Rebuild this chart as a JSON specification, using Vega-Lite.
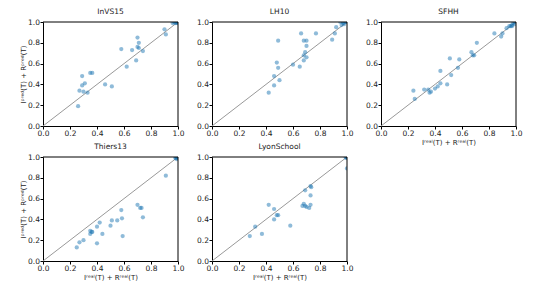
{
  "$schema": "https://vega.github.io/schema/vega-lite/v6.json",
  "padding": {"left": 19, "top": 7, "right": 4, "bottom": 2},
  "background": "white",
  "config": {
    "font": "DejaVu Sans",
    "view": {"stroke": null},
    "axis": {"domainColor": "#000", "tickColor": "#000", "tickSize": 3, "labelFontSize": 7.5, "labelColor": "#222", "labelFont": "DejaVu Sans", "labelPadding": 0.5, "labelFlush": false, "titleFont": "DejaVu Sans", "titleFontSize": 7, "titleFontWeight": "normal", "titleColor": "#222", "titlePadding": 1.5, "grid": false, "format": ".1f"},
    "title": {"fontSize": 7.5, "fontWeight": "normal", "font": "DejaVu Sans", "color": "#222", "offset": 3}
  },
  "datasets": {
    "diag": [{"x": 0, "y": 0, "x2": 1, "y2": 1}],
    "frame": [{"x": 0, "y": 1, "x2": 1, "y2": 1}, {"x": 1, "y": 0, "x2": 1, "y2": 1}],
    "pts": [
      {"d": "InVS15", "x": 0.26, "y": 0.19}, {"d": "InVS15", "x": 0.27, "y": 0.34}, {"d": "InVS15", "x": 0.29, "y": 0.39}, {"d": "InVS15", "x": 0.29, "y": 0.48}, {"d": "InVS15", "x": 0.31, "y": 0.41}, {"d": "InVS15", "x": 0.3, "y": 0.33}, {"d": "InVS15", "x": 0.33, "y": 0.32}, {"d": "InVS15", "x": 0.35, "y": 0.51}, {"d": "InVS15", "x": 0.365, "y": 0.51}, {"d": "InVS15", "x": 0.46, "y": 0.4}, {"d": "InVS15", "x": 0.51, "y": 0.38}, {"d": "InVS15", "x": 0.58, "y": 0.74}, {"d": "InVS15", "x": 0.62, "y": 0.57}, {"d": "InVS15", "x": 0.66, "y": 0.73}, {"d": "InVS15", "x": 0.69, "y": 0.63}, {"d": "InVS15", "x": 0.7, "y": 0.85}, {"d": "InVS15", "x": 0.71, "y": 0.8}, {"d": "InVS15", "x": 0.7, "y": 0.76}, {"d": "InVS15", "x": 0.71, "y": 0.75}, {"d": "InVS15", "x": 0.74, "y": 0.72}, {"d": "InVS15", "x": 0.9, "y": 0.93}, {"d": "InVS15", "x": 0.91, "y": 0.88}, {"d": "InVS15", "x": 0.96, "y": 0.99}, {"d": "InVS15", "x": 0.97, "y": 1.0}, {"d": "InVS15", "x": 0.98, "y": 0.99}, {"d": "InVS15", "x": 0.99, "y": 1.0}, {"d": "InVS15", "x": 1.0, "y": 1.0}, {"d": "InVS15", "x": 0.985, "y": 0.995}, {"d": "InVS15", "x": 0.995, "y": 0.99}, {"d": "InVS15", "x": 1.0, "y": 0.995},
      {"d": "LH10", "x": 0.42, "y": 0.32}, {"d": "LH10", "x": 0.46, "y": 0.39}, {"d": "LH10", "x": 0.46, "y": 0.48}, {"d": "LH10", "x": 0.48, "y": 0.61}, {"d": "LH10", "x": 0.49, "y": 0.56}, {"d": "LH10", "x": 0.5, "y": 0.44}, {"d": "LH10", "x": 0.49, "y": 0.82}, {"d": "LH10", "x": 0.6, "y": 0.59}, {"d": "LH10", "x": 0.65, "y": 0.57}, {"d": "LH10", "x": 0.66, "y": 0.89}, {"d": "LH10", "x": 0.68, "y": 0.82}, {"d": "LH10", "x": 0.7, "y": 0.82}, {"d": "LH10", "x": 0.7, "y": 0.77}, {"d": "LH10", "x": 0.69, "y": 0.71}, {"d": "LH10", "x": 0.68, "y": 0.68}, {"d": "LH10", "x": 0.68, "y": 0.63}, {"d": "LH10", "x": 0.7, "y": 0.66}, {"d": "LH10", "x": 0.77, "y": 0.89}, {"d": "LH10", "x": 0.89, "y": 0.83}, {"d": "LH10", "x": 0.91, "y": 0.89}, {"d": "LH10", "x": 0.92, "y": 0.95}, {"d": "LH10", "x": 0.95, "y": 1.0}, {"d": "LH10", "x": 0.96, "y": 0.97}, {"d": "LH10", "x": 0.97, "y": 0.99}, {"d": "LH10", "x": 0.98, "y": 0.98}, {"d": "LH10", "x": 0.99, "y": 1.0}, {"d": "LH10", "x": 1.0, "y": 1.0}, {"d": "LH10", "x": 0.975, "y": 0.995},
      {"d": "SFHH", "x": 0.24, "y": 0.34}, {"d": "SFHH", "x": 0.25, "y": 0.26}, {"d": "SFHH", "x": 0.32, "y": 0.35}, {"d": "SFHH", "x": 0.35, "y": 0.35}, {"d": "SFHH", "x": 0.36, "y": 0.32}, {"d": "SFHH", "x": 0.37, "y": 0.33}, {"d": "SFHH", "x": 0.4, "y": 0.36}, {"d": "SFHH", "x": 0.42, "y": 0.38}, {"d": "SFHH", "x": 0.44, "y": 0.41}, {"d": "SFHH", "x": 0.44, "y": 0.53}, {"d": "SFHH", "x": 0.49, "y": 0.4}, {"d": "SFHH", "x": 0.51, "y": 0.65}, {"d": "SFHH", "x": 0.52, "y": 0.49}, {"d": "SFHH", "x": 0.57, "y": 0.56}, {"d": "SFHH", "x": 0.58, "y": 0.64}, {"d": "SFHH", "x": 0.67, "y": 0.71}, {"d": "SFHH", "x": 0.68, "y": 0.68}, {"d": "SFHH", "x": 0.69, "y": 0.68}, {"d": "SFHH", "x": 0.71, "y": 0.8}, {"d": "SFHH", "x": 0.84, "y": 0.89}, {"d": "SFHH", "x": 0.89, "y": 0.86}, {"d": "SFHH", "x": 0.9, "y": 0.89}, {"d": "SFHH", "x": 0.93, "y": 0.94}, {"d": "SFHH", "x": 0.95, "y": 0.96}, {"d": "SFHH", "x": 0.97, "y": 0.97}, {"d": "SFHH", "x": 0.97, "y": 0.96}, {"d": "SFHH", "x": 0.98, "y": 0.99}, {"d": "SFHH", "x": 0.99, "y": 1.0}, {"d": "SFHH", "x": 0.96, "y": 0.96}, {"d": "SFHH", "x": 0.99, "y": 0.98},
      {"d": "Thiers13", "x": 0.25, "y": 0.13}, {"d": "Thiers13", "x": 0.27, "y": 0.18}, {"d": "Thiers13", "x": 0.3, "y": 0.2}, {"d": "Thiers13", "x": 0.4, "y": 0.17}, {"d": "Thiers13", "x": 0.35, "y": 0.26}, {"d": "Thiers13", "x": 0.36, "y": 0.28}, {"d": "Thiers13", "x": 0.35, "y": 0.29}, {"d": "Thiers13", "x": 0.365, "y": 0.28}, {"d": "Thiers13", "x": 0.4, "y": 0.33}, {"d": "Thiers13", "x": 0.42, "y": 0.37}, {"d": "Thiers13", "x": 0.44, "y": 0.26}, {"d": "Thiers13", "x": 0.5, "y": 0.34}, {"d": "Thiers13", "x": 0.51, "y": 0.39}, {"d": "Thiers13", "x": 0.55, "y": 0.39}, {"d": "Thiers13", "x": 0.58, "y": 0.49}, {"d": "Thiers13", "x": 0.585, "y": 0.41}, {"d": "Thiers13", "x": 0.59, "y": 0.24}, {"d": "Thiers13", "x": 0.7, "y": 0.54}, {"d": "Thiers13", "x": 0.72, "y": 0.51}, {"d": "Thiers13", "x": 0.73, "y": 0.51}, {"d": "Thiers13", "x": 0.74, "y": 0.42}, {"d": "Thiers13", "x": 0.91, "y": 0.82}, {"d": "Thiers13", "x": 0.98, "y": 0.99}, {"d": "Thiers13", "x": 0.99, "y": 1.0}, {"d": "Thiers13", "x": 1.0, "y": 0.99}, {"d": "Thiers13", "x": 1.0, "y": 1.0}, {"d": "Thiers13", "x": 0.99, "y": 0.98}, {"d": "Thiers13", "x": 0.985, "y": 0.995}, {"d": "Thiers13", "x": 0.995, "y": 0.995},
      {"d": "LyonSchool", "x": 0.28, "y": 0.24}, {"d": "LyonSchool", "x": 0.32, "y": 0.33}, {"d": "LyonSchool", "x": 0.37, "y": 0.26}, {"d": "LyonSchool", "x": 0.42, "y": 0.54}, {"d": "LyonSchool", "x": 0.46, "y": 0.5}, {"d": "LyonSchool", "x": 0.46, "y": 0.4}, {"d": "LyonSchool", "x": 0.48, "y": 0.44}, {"d": "LyonSchool", "x": 0.49, "y": 0.44}, {"d": "LyonSchool", "x": 0.58, "y": 0.34}, {"d": "LyonSchool", "x": 0.67, "y": 0.53}, {"d": "LyonSchool", "x": 0.68, "y": 0.55}, {"d": "LyonSchool", "x": 0.69, "y": 0.68}, {"d": "LyonSchool", "x": 0.69, "y": 0.53}, {"d": "LyonSchool", "x": 0.7, "y": 0.52}, {"d": "LyonSchool", "x": 0.72, "y": 0.51}, {"d": "LyonSchool", "x": 0.73, "y": 0.72}, {"d": "LyonSchool", "x": 0.735, "y": 0.71}, {"d": "LyonSchool", "x": 0.73, "y": 0.63}, {"d": "LyonSchool", "x": 0.73, "y": 0.54}, {"d": "LyonSchool", "x": 1.0, "y": 0.89}, {"d": "LyonSchool", "x": 1.0, "y": 0.99}, {"d": "LyonSchool", "x": 0.995, "y": 1.0}, {"d": "LyonSchool", "x": 1.0, "y": 1.0}, {"d": "LyonSchool", "x": 0.99, "y": 0.995}
    ]
  },
  "bounds": "flush",
  "columns": 3,
  "spacing": {"row": 31, "column": 34},
  "concat": [
    {
      "width": 135, "height": 104, "title": "InVS15",
      "encoding": {
        "x": {"field": "x", "type": "quantitative", "scale": {"domain": [0, 1], "nice": false}, "axis": {"values": [0, 0.2, 0.4, 0.6, 0.8, 1], "title": null}},
        "y": {"field": "y", "type": "quantitative", "scale": {"domain": [0, 1], "nice": false}, "axis": {"values": [0, 0.2, 0.4, 0.6, 0.8, 1], "title": "Iᵖʳᵉᵈ(T) + Rᵖʳᵉᵈ(T)"}}
      },
      "layer": [
        {"data": {"name": "diag"}, "mark": {"type": "rule", "color": "#999", "strokeWidth": 1}, "encoding": {"x2": {"field": "x2"}, "y2": {"field": "y2"}}},
        {"data": {"name": "pts"}, "transform": [{"filter": "datum.d === 'InVS15'"}], "mark": {"type": "circle", "size": 18, "opacity": 0.5, "color": "#1f77b4", "clip": true}},
        {"data": {"name": "frame"}, "mark": {"type": "rule", "color": "#000", "strokeWidth": 1}, "encoding": {"x2": {"field": "x2"}, "y2": {"field": "y2"}}}
      ]
    },
    {
      "width": 135, "height": 104, "title": "LH10",
      "encoding": {
        "x": {"field": "x", "type": "quantitative", "scale": {"domain": [0, 1], "nice": false}, "axis": {"values": [0, 0.2, 0.4, 0.6, 0.8, 1], "title": null}},
        "y": {"field": "y", "type": "quantitative", "scale": {"domain": [0, 1], "nice": false}, "axis": {"values": [0, 0.2, 0.4, 0.6, 0.8, 1], "title": null}}
      },
      "layer": [
        {"data": {"name": "diag"}, "mark": {"type": "rule", "color": "#999", "strokeWidth": 1}, "encoding": {"x2": {"field": "x2"}, "y2": {"field": "y2"}}},
        {"data": {"name": "pts"}, "transform": [{"filter": "datum.d === 'LH10'"}], "mark": {"type": "circle", "size": 18, "opacity": 0.5, "color": "#1f77b4", "clip": true}},
        {"data": {"name": "frame"}, "mark": {"type": "rule", "color": "#000", "strokeWidth": 1}, "encoding": {"x2": {"field": "x2"}, "y2": {"field": "y2"}}}
      ]
    },
    {
      "width": 135, "height": 104, "title": "SFHH",
      "encoding": {
        "x": {"field": "x", "type": "quantitative", "scale": {"domain": [0, 1], "nice": false}, "axis": {"values": [0, 0.2, 0.4, 0.6, 0.8, 1], "title": "Iʳᵉᵃˡ(T) + Rʳᵉᵃˡ(T)"}},
        "y": {"field": "y", "type": "quantitative", "scale": {"domain": [0, 1], "nice": false}, "axis": {"values": [0, 0.2, 0.4, 0.6, 0.8, 1], "title": null}}
      },
      "layer": [
        {"data": {"name": "diag"}, "mark": {"type": "rule", "color": "#999", "strokeWidth": 1}, "encoding": {"x2": {"field": "x2"}, "y2": {"field": "y2"}}},
        {"data": {"name": "pts"}, "transform": [{"filter": "datum.d === 'SFHH'"}], "mark": {"type": "circle", "size": 18, "opacity": 0.5, "color": "#1f77b4", "clip": true}},
        {"data": {"name": "frame"}, "mark": {"type": "rule", "color": "#000", "strokeWidth": 1}, "encoding": {"x2": {"field": "x2"}, "y2": {"field": "y2"}}}
      ]
    },
    {
      "width": 135, "height": 104, "title": "Thiers13",
      "encoding": {
        "x": {"field": "x", "type": "quantitative", "scale": {"domain": [0, 1], "nice": false}, "axis": {"values": [0, 0.2, 0.4, 0.6, 0.8, 1], "title": "Iʳᵉᵃˡ(T) + Rʳᵉᵃˡ(T)"}},
        "y": {"field": "y", "type": "quantitative", "scale": {"domain": [0, 1], "nice": false}, "axis": {"values": [0, 0.2, 0.4, 0.6, 0.8, 1], "title": "Iᵖʳᵉᵈ(T) + Rᵖʳᵉᵈ(T)"}}
      },
      "layer": [
        {"data": {"name": "diag"}, "mark": {"type": "rule", "color": "#999", "strokeWidth": 1}, "encoding": {"x2": {"field": "x2"}, "y2": {"field": "y2"}}},
        {"data": {"name": "pts"}, "transform": [{"filter": "datum.d === 'Thiers13'"}], "mark": {"type": "circle", "size": 18, "opacity": 0.5, "color": "#1f77b4", "clip": true}},
        {"data": {"name": "frame"}, "mark": {"type": "rule", "color": "#000", "strokeWidth": 1}, "encoding": {"x2": {"field": "x2"}, "y2": {"field": "y2"}}}
      ]
    },
    {
      "width": 135, "height": 104, "title": "LyonSchool",
      "encoding": {
        "x": {"field": "x", "type": "quantitative", "scale": {"domain": [0, 1], "nice": false}, "axis": {"values": [0, 0.2, 0.4, 0.6, 0.8, 1], "title": "Iʳᵉᵃˡ(T) + Rʳᵉᵃˡ(T)"}},
        "y": {"field": "y", "type": "quantitative", "scale": {"domain": [0, 1], "nice": false}, "axis": {"values": [0, 0.2, 0.4, 0.6, 0.8, 1], "title": null}}
      },
      "layer": [
        {"data": {"name": "diag"}, "mark": {"type": "rule", "color": "#999", "strokeWidth": 1}, "encoding": {"x2": {"field": "x2"}, "y2": {"field": "y2"}}},
        {"data": {"name": "pts"}, "transform": [{"filter": "datum.d === 'LyonSchool'"}], "mark": {"type": "circle", "size": 18, "opacity": 0.5, "color": "#1f77b4", "clip": true}},
        {"data": {"name": "frame"}, "mark": {"type": "rule", "color": "#000", "strokeWidth": 1}, "encoding": {"x2": {"field": "x2"}, "y2": {"field": "y2"}}}
      ]
    }
  ]
}
